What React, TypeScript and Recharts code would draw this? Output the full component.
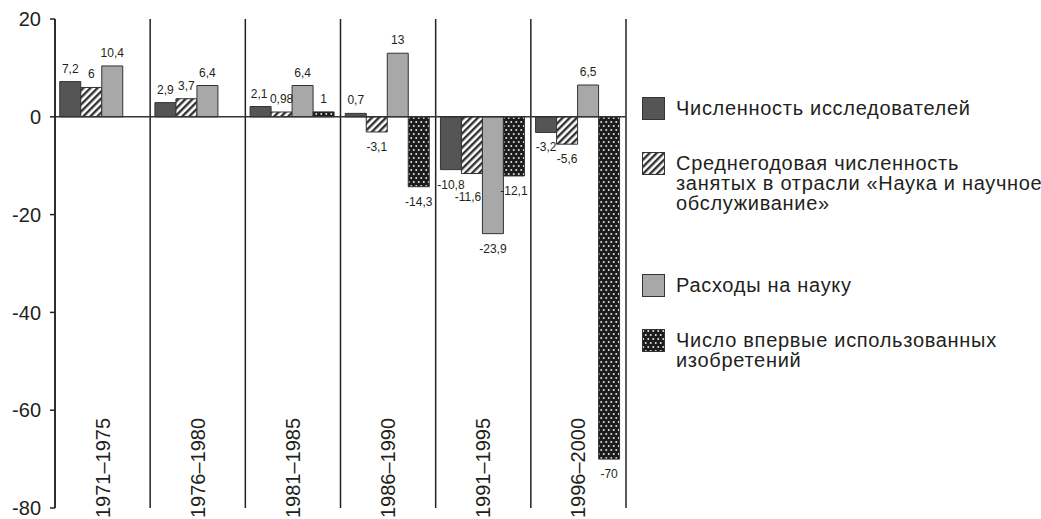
import {
  Bar,
  BarChart,
  CartesianGrid,
  LabelList,
  Legend,
  ReferenceLine,
  XAxis,
  YAxis,
} from "recharts";

const PERIODS = ["1971–1975", "1976–1980", "1981–1985", "1986–1990", "1991–1995", "1996–2000"];
const RESEARCHERS = [7.2, 2.9, 2.1, 0.7, -10.8, -3.2];
const EMPLOYED = [6, 3.7, 0.98, -3.1, -11.6, -5.6];
const SPENDING = [10.4, 6.4, 6.4, 13, -23.9, 6.5];
const INVENTIONS = [null, null, 1, -14.3, -12.1, -70];
const Y_TICKS = [-80, -60, -40, -20, 0, 20];

const SERIES = [
  { key: "researchers", name: "Численность исследователей", fill: "#555555" },
  {
    key: "employed",
    name: "Среднегодовая численность\nзанятых в отрасли «Наука и научное\nобслуживание»",
    fill: "url(#hatch)",
  },
  { key: "spending", name: "Расходы на науку", fill: "#a8a8a8" },
  { key: "inventions", name: "Число впервые использованных\nизобретений", fill: "url(#dots)" },
];

const data = PERIODS.map((period, i) => ({
  period,
  researchers: RESEARCHERS[i],
  employed: EMPLOYED[i],
  spending: SPENDING[i],
  inventions: INVENTIONS[i],
}));

const FONT = "'Liberation Sans', Arial, Helvetica, sans-serif";
const INK = "#231f20";

// a couple of labels were nudged in the original to avoid overlapping
const LABEL_NUDGE: Record<string, { dx?: number; dy?: number }> = {
  "employed-4": { dx: -4, dy: 8 },
  "inventions-4": { dx: -2 },
  "researchers-2": { dx: -1.5 },
};

const fmt = (v: number) => String(v).replace(".", ",");

function makeLabel(seriesKey: string) {
  return function ValueLabel(props: any) {
    const { x, y, width, height, value, index } = props;
    if (value == null) return null;
    const top = Math.min(y, y + height);
    const bottom = Math.max(y, y + height);
    const nudge = LABEL_NUDGE[`${seriesKey}-${index}`] ?? {};
    const cx = x + width / 2 + (nudge.dx ?? 0);
    const cy = (value >= 0 ? top - 13 : bottom + 15) + (nudge.dy ?? 0);
    return (
      <text
        x={cx}
        y={cy}
        textAnchor="middle"
        dominantBaseline="central"
        fontSize={12}
        fontFamily={FONT}
        fill={INK}
      >
        {fmt(value)}
      </text>
    );
  };
}

function PeriodTick({ x, y, payload }: any) {
  const ty = y + 10;
  return (
    <text
      x={x}
      y={ty}
      transform={`rotate(-90 ${x} ${ty})`}
      textAnchor="start"
      dy="0.35em"
      fontSize={20}
      fontFamily={FONT}
      fill={INK}
    >
      {payload.value}
    </text>
  );
}

function Swatch({ fill }: { fill: string }) {
  return (
    <svg width={23} height={23} style={{ display: "block", flex: "none" }}>
      <rect x={0.5} y={0.5} width={22} height={22} fill={fill} stroke="#333" strokeWidth={1} />
    </svg>
  );
}

const LEGEND_TOPS = [0, 55, 177, 232];

function LegendBox() {
  return (
    <div style={{ position: "relative", width: 399, height: 280, fontFamily: FONT }}>
      {SERIES.map((s, i) => (
        <div
          key={s.key}
          style={{ position: "absolute", left: 0, top: LEGEND_TOPS[i], display: "flex", alignItems: "flex-start" }}
        >
          <Swatch fill={s.fill} />
          <div
            style={{
              marginLeft: 11,
              fontSize: 20,
              lineHeight: "20px",
              letterSpacing: 0.7,
              marginTop: 1,
              color: INK,
              whiteSpace: "pre",
              textAlign: "left",
            }}
          >
            {s.name}
          </div>
        </div>
      ))}
    </div>
  );
}

export default function App() {
  return (
    <div style={{ position: "absolute", left: 0, top: 0, width: 1041, height: 519, background: "#fff", overflow: "hidden" }}>
      <BarChart
        width={1041}
        height={519}
        data={data}
        margin={{ top: 19, right: 415, bottom: 0, left: 0 }}
        barCategoryGap="5%"
        barGap={0}
      >
        <defs>
          <pattern id="hatch" patternUnits="userSpaceOnUse" width={5} height={5} patternTransform="rotate(45)">
            <rect width={5} height={5} fill="#fff" />
            <rect width={2.4} height={5} fill="#333" />
          </pattern>
          <pattern id="dots" patternUnits="userSpaceOnUse" width={5} height={8}>
            <rect width={5} height={8} fill="#1c1c1c" />
            <circle cx={1.25} cy={2} r={1} fill="#e2e2e2" />
            <circle cx={3.75} cy={6} r={1} fill="#e2e2e2" />
          </pattern>
        </defs>
        <CartesianGrid
          horizontal={false}
          stroke="#222"
          strokeWidth={1.5}
          verticalCoordinatesGenerator={({ offset }: any) =>
            Array.from({ length: PERIODS.length + 1 }, (_, i) => offset.left + (i * offset.width) / PERIODS.length)
          }
        />
        <XAxis
          dataKey="period"
          height={11}
          axisLine={false}
          tickLine={false}
          tickSize={0}
          tickMargin={0}
          interval={0}
          tick={<PeriodTick />}
        />
        <YAxis
          width={55}
          domain={[-80, 20]}
          ticks={Y_TICKS}
          interval={0}
          axisLine={{ stroke: "#222", strokeWidth: 1.5 }}
          tickLine={{ stroke: "#222", strokeWidth: 1.5 }}
          tickSize={5}
          tickMargin={9}
          tick={{ fontSize: 20, fontFamily: FONT, fill: INK }}
        />
        <Legend
          layout="horizontal"
          verticalAlign="middle"
          align="center"
          content={() => <LegendBox />}
          wrapperStyle={{ left: 642, top: 97, width: 399, height: 280 }}
        />
        {SERIES.map((s) => (
          <Bar
            key={s.key}
            dataKey={s.key}
            name={s.name}
            fill={s.fill}
            stroke="#333"
            strokeWidth={1}
            isAnimationActive={false}
          >
            <LabelList dataKey={s.key} content={makeLabel(s.key)} />
          </Bar>
        ))}
        <ReferenceLine y={0} stroke="#333" strokeWidth={1.5} />
      </BarChart>
    </div>
  );
}
